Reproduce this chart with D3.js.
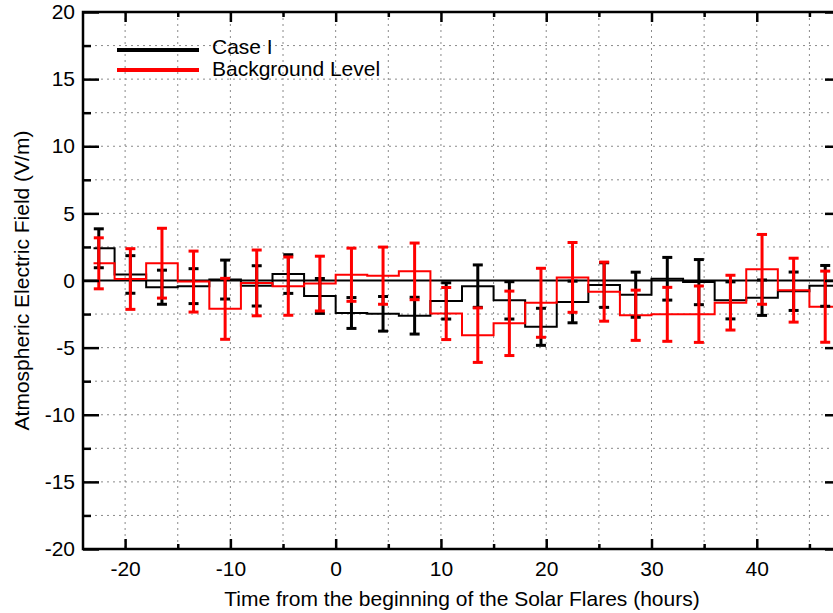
<!DOCTYPE html>
<meta charset="utf-8">
<script src="https://d3js.org/d3.v7.min.js"></script>
<style>
  body { margin: 0; background: #fff; }
  svg text { font-family: "Liberation Sans", Arial, Helvetica, sans-serif; fill: #000; }
</style>
<div id="chart"></div>
<script>
// bin centres (hours) and the two series with their error half-widths
var hours = [-22.5, -19.5, -16.5, -13.5, -10.5, -7.5, -4.5, -1.5, 1.5, 4.5, 7.5, 10.5,
             13.5, 16.5, 19.5, 22.5, 25.5, 28.5, 31.5, 34.5, 37.5, 40.5, 43.5, 46.5];
var caseI = [2.4, 0.45, -0.5, -0.42, 0.07, -0.4, 0.48, -1.15, -2.42, -2.48, -2.62, -1.52,
             -0.42, -1.48, -3.45, -1.6, -0.34, -1.06, 0.13, -0.12, -1.48, -1.28, -0.8, -0.4];
var caseIErr = [1.45, 1.4, 1.27, 1.3, 1.45, 1.5, 1.44, 1.3, 1.15, 1.29, 1.37, 1.35,
                1.58, 1.39, 1.38, 1.55, 1.66, 1.68, 1.59, 1.68, 1.38, 1.32, 1.43, 1.52];
var background = [1.28, 0.11, 1.29, -0.08, -2.11, -0.18, -0.42, -0.23, 0.43, 0.36, 0.68, -2.46,
                  -4.07, -3.19, -1.66, 0.23, -0.83, -2.59, -2.52, -2.51, -1.65, 0.83, -0.72, -1.95];
var backgroundErr = [1.9, 2.26, 2.6, 2.27, 2.27, 2.45, 2.17, 2.04, 1.98, 2.13, 2.11, 1.94,
                     2.03, 2.4, 2.57, 2.6, 2.2, 1.87, 2.01, 2.1, 2.04, 2.6, 2.38, 2.65];
var binWidth = 3;
var stepStart = -23;

var xMajor = [-20, -10, 0, 10, 20, 30, 40];
var xMinor = [-15, -5, 5, 15, 25, 35, 45];
var yMajor = [-20, -15, -10, -5, 0, 5, 10, 15, 20];
var yMinor = [-17.5, -12.5, -7.5, -2.5, 2.5, 7.5, 12.5, 17.5];
var xGrid = [-20, -15, -10, -5, 0, 5, 10, 15, 20, 25, 30, 35, 40, 45];
var yGrid = [-17.5, -15, -12.5, -10, -7.5, -5, -2.5, 2.5, 5, 7.5, 10, 12.5, 15, 17.5];

var series = [
  { name: "Case I", values: caseI, errs: caseIErr, color: "#000000" },
  { name: "Background Level", values: background, errs: backgroundErr, color: "#ff0000" }
];

var W = 833, H = 613;
var pL = 83, pT = 12, pR = 841, pB = 549;
var fs = "21px";

var svg = d3.select("#chart").append("svg")
    .attr("width", W)
    .attr("height", H);

var x = d3.scaleLinear().domain([-24, 48]).range([pL, pR]);
var y = d3.scaleLinear().domain([-20, 20]).range([pB, pT]);

// dotted grid
svg.append("g").selectAll("line").data(xGrid).enter().append("line")
    .attr("x1", function(d) { return x(d); }).attr("x2", function(d) { return x(d); })
    .attr("y1", pT).attr("y2", pB)
    .attr("stroke", "#8a8a8a").attr("stroke-width", 1).attr("stroke-dasharray", "2,4");
svg.append("g").selectAll("line").data(yGrid).enter().append("line")
    .attr("y1", function(d) { return y(d); }).attr("y2", function(d) { return y(d); })
    .attr("x1", pL).attr("x2", pR)
    .attr("stroke", "#8a8a8a").attr("stroke-width", 1).attr("stroke-dasharray", "2,4");

// zero line
svg.append("line")
    .attr("x1", pL).attr("x2", pR)
    .attr("y1", y(0)).attr("y2", y(0))
    .attr("stroke", "#000").attr("stroke-width", 2);

// histogram steps
function stepPoints(vals) {
  var pts = [];
  vals.forEach(function(v, i) {
    var x0 = i === 0 ? stepStart : hours[i] - binWidth / 2;
    pts.push([x0, v]);
    pts.push([hours[i] + binWidth / 2, v]);
  });
  return pts;
}
var line = d3.line()
    .x(function(d) { return x(d[0]); })
    .y(function(d) { return y(d[1]); });

series.forEach(function(s) {
  svg.append("path")
      .attr("d", line(stepPoints(s.values)))
      .attr("fill", "none")
      .attr("stroke", s.color)
      .attr("stroke-width", 2);
});

// error bars (black under red)
series.forEach(function(s) {
  var g = svg.append("g");
  var capW = 5;
  s.values.forEach(function(v, i) {
    var cx = x(hours[i]);
    var hi = y(v + s.errs[i]), lo = y(v - s.errs[i]);
    g.append("line").attr("x1", cx).attr("x2", cx).attr("y1", hi).attr("y2", lo)
        .attr("stroke", s.color).attr("stroke-width", 3);
    g.append("line").attr("x1", cx - capW).attr("x2", cx + capW).attr("y1", hi).attr("y2", hi)
        .attr("stroke", s.color).attr("stroke-width", 3);
    g.append("line").attr("x1", cx - capW).attr("x2", cx + capW).attr("y1", lo).attr("y2", lo)
        .attr("stroke", s.color).attr("stroke-width", 3);
  });
});

// axes
function styleAxis(g) {
  g.select(".domain").remove();
  g.selectAll(".tick line").attr("stroke", "#000").attr("stroke-width", 2.5);
  g.selectAll(".tick text").attr("font-size", fs)
      .style("font-family", "'Liberation Sans', Arial, sans-serif");
}
var fmt = function(d) { return String(d); };

svg.append("g").attr("transform", "translate(0," + pB + ")")
    .call(d3.axisBottom(x).tickValues(xMajor).tickSize(-10).tickPadding(12).tickFormat(fmt))
    .call(styleAxis);
svg.append("g").attr("transform", "translate(0," + pB + ")")
    .call(d3.axisBottom(x).tickValues(xMinor).tickSize(-5).tickFormat(""))
    .call(styleAxis);
svg.append("g").attr("transform", "translate(0," + pT + ")")
    .call(d3.axisTop(x).tickValues(xMajor).tickSize(-10).tickFormat(""))
    .call(styleAxis);
svg.append("g").attr("transform", "translate(0," + pT + ")")
    .call(d3.axisTop(x).tickValues(xMinor).tickSize(-5).tickFormat(""))
    .call(styleAxis);
svg.append("g").attr("transform", "translate(" + pL + ",0)")
    .call(d3.axisLeft(y).tickValues(yMajor).tickSize(-16).tickPadding(8).tickFormat(fmt))
    .call(styleAxis);
svg.append("g").attr("transform", "translate(" + pL + ",0)")
    .call(d3.axisLeft(y).tickValues(yMinor).tickSize(-8).tickFormat(""))
    .call(styleAxis);
svg.append("g").attr("transform", "translate(" + pR + ",0)")
    .call(d3.axisRight(y).tickValues(yMajor).tickSize(-16).tickFormat(""))
    .call(styleAxis);
svg.append("g").attr("transform", "translate(" + pR + ",0)")
    .call(d3.axisRight(y).tickValues(yMinor).tickSize(-8).tickFormat(""))
    .call(styleAxis);

// frame
svg.append("rect")
    .attr("x", pL).attr("y", pT)
    .attr("width", pR - pL).attr("height", pB - pT)
    .attr("fill", "none").attr("stroke", "#000").attr("stroke-width", 2.5);

// titles
svg.append("text")
    .attr("x", 462)
    .attr("y", 606)
    .attr("text-anchor", "middle")
    .attr("font-size", fs)
    .text("Time from the beginning of the Solar Flares (hours)");
svg.append("text")
    .attr("transform", "translate(29," + y(0) + ") rotate(-90)")
    .attr("text-anchor", "middle")
    .attr("font-size", fs)
    .text("Atmospheric Electric Field (V/m)");

// legend
var legend = svg.append("g");
series.forEach(function(s, i) {
  var ly = 50 + i * 20;
  legend.append("line")
      .attr("x1", 117).attr("x2", 199).attr("y1", ly).attr("y2", ly)
      .attr("stroke", s.color).attr("stroke-width", 4);
  legend.append("text")
      .attr("x", 212).attr("y", 54 + i * 22)
      .attr("font-size", fs)
      .text(s.name);
});
</script>
